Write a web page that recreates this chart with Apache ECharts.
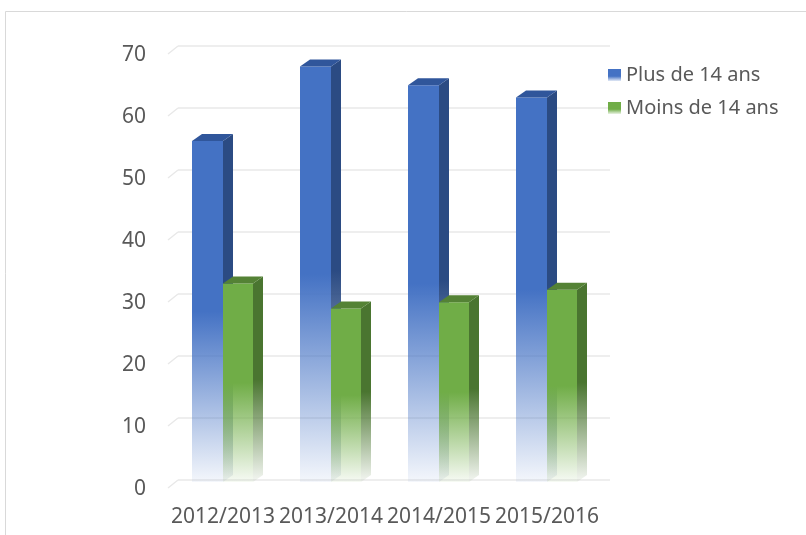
<!DOCTYPE html>
<html>
<head>
<meta charset="utf-8">
<script src="https://cdn.jsdelivr.net/npm/echarts@6/dist/echarts.min.js"></script>
<style>
  html, body { margin: 0; padding: 0; background: #ffffff; }
  #chart { width: 806px; height: 535px; }
</style>
</head>
<body>
<div id="chart"></div>
<script>
const categories = ['2012/2013', '2013/2014', '2014/2015', '2015/2016'];
const plus14 = [55, 67, 64, 62];
const moins14 = [32, 28, 29, 31];
const yTicks = [0, 10, 20, 30, 40, 50, 60, 70];

const FONT = '"Noto Sans", "Open Sans", sans-serif';
const TEXT = '#595959';
const GRID_LINE = '#e8e8e8';

// oblique depth of the 3D look
const DX = 10, DY = -7;

function fade(hex, a) {
  const n = parseInt(hex.slice(1), 16);
  return 'rgba(' + (n >> 16) + ',' + ((n >> 8) & 255) + ',' + (n & 255) + ',' + a + ')';
}

function vGrad(color, y0, y1) {
  return new echarts.graphic.LinearGradient(0, y0, 0, y1, [
    { offset: 0, color: color },
    { offset: 0.5, color: color },
    { offset: 1, color: fade(color, 0.06) }
  ], true);
}

// one 3D bar: front face, right side face, top face
function barRenderer(left, right, colors) {
  return function (params, api) {
    const ci = api.value(0);
    const v = api.value(1);
    const base = api.coord([ci, 0]);
    const top = api.coord([ci, v]);
    const x0 = base[0] + left, x1 = base[0] + right;
    const yt = top[1] + 2, yb = base[1] + 2;
    return {
      type: 'group',
      children: [
        {
          type: 'polygon',
          shape: { points: [[x1, yt], [x1 + DX, yt + DY], [x1 + DX, yb + DY], [x1, yb]] },
          style: { fill: vGrad(colors.side, yt + DY, yb) }
        },
        {
          type: 'rect',
          shape: { x: x0, y: yt, width: x1 - x0, height: yb - yt },
          style: { fill: vGrad(colors.front, yt, yb) }
        },
        {
          type: 'polygon',
          shape: { points: [[x0, yt], [x0 + DX, yt + DY], [x1 + DX, yt + DY], [x1, yt]] },
          style: { fill: colors.top }
        }
      ]
    };
  };
}

const blue = { front: '#4472C4', side: '#2B4B83', top: '#30569B' };
const green = { front: '#70AD47', side: '#4A7530', top: '#548235' };

function legendGrad(color) {
  return new echarts.graphic.LinearGradient(0, 0, 0, 1, [
    { offset: 0, color: color },
    { offset: 0.6, color: color },
    { offset: 1, color: fade(color, 0.15) }
  ]);
}

const chart = echarts.init(document.getElementById('chart'), null, { renderer: 'canvas' });

chart.setOption({
  animation: false,
  backgroundColor: '#ffffff',
  textStyle: { fontFamily: FONT },
  graphic: [{
    type: 'rect',
    shape: { x: 5.5, y: 11.5, width: 900, height: 600 },
    style: { fill: 'none', stroke: '#d9d9d9', lineWidth: 1 },
    silent: true
  }],
  grid: { left: 178, right: 196, top: 46, bottom: 55 },
  legend: {
    orient: 'vertical',
    left: 603,
    top: 59,
    icon: 'rect',
    itemWidth: 13,
    itemHeight: 12,
    itemGap: 11,
    data: ['Plus de 14 ans', 'Moins de 14 ans'],
    textStyle: { fontFamily: FONT, fontSize: 20, color: TEXT, lineHeight: 22 }
  },
  xAxis: {
    type: 'category',
    data: categories,
    boundaryGap: true,
    axisLine: { show: false },
    axisTick: { show: false },
    axisLabel: {
      fontFamily: FONT, fontSize: 21, color: TEXT,
      margin: 27, interval: 0, padding: [0, 18, 0, 0]
    }
  },
  yAxis: {
    type: 'value',
    min: 0, max: 70, interval: 10,
    axisLine: { show: false },
    axisTick: { show: false },
    splitLine: { lineStyle: { color: GRID_LINE, width: 1.5 } },
    axisLabel: {
      fontFamily: FONT, fontSize: 21, color: TEXT,
      margin: 32, verticalAlign: 'top', lineHeight: 19
    }
  },
  series: [
    {
      // slanted floor/wall joins of each gridline
      type: 'custom',
      name: 'gridJoin',
      silent: true,
      z: 1,
      data: yTicks.map(function (v) { return [0, v]; }),
      renderItem: function (params, api) {
        const y = api.coord([0, api.value(1)])[1];
        const x = params.coordSys.x;
        return {
          type: 'line',
          shape: { x1: x - DX, y1: y - DY + 1, x2: x, y2: y },
          style: { stroke: GRID_LINE, lineWidth: 1.5 }
        };
      }
    },
    {
      type: 'custom',
      name: 'Plus de 14 ans',
      z: 2,
      itemStyle: { color: legendGrad('#4472C4') },
      data: plus14.map(function (v, i) { return [i, v]; }),
      renderItem: barRenderer(-40, -9, blue)
    },
    {
      type: 'custom',
      name: 'Moins de 14 ans',
      z: 3,
      itemStyle: { color: legendGrad('#70AD47') },
      data: moins14.map(function (v, i) { return [i, v]; }),
      renderItem: barRenderer(-9, 21, green)
    }
  ]
});
</script>
</body>
</html>
